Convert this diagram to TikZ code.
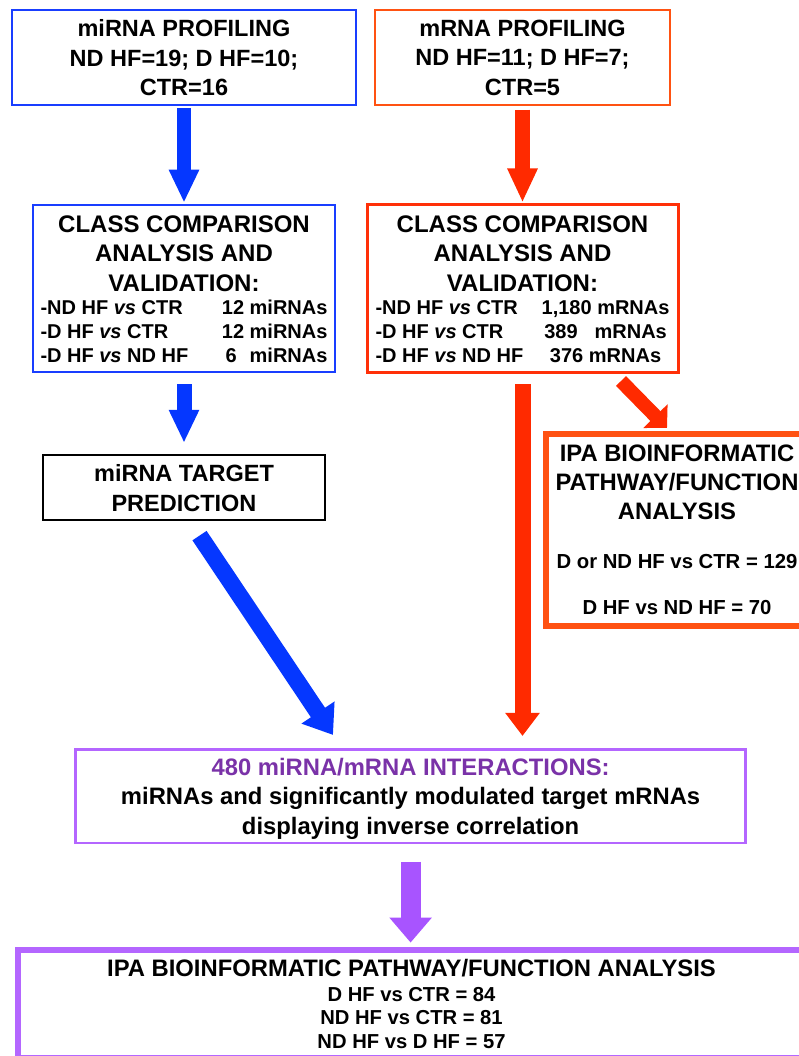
\documentclass[tikz,border=0pt]{standalone}
\usepackage{fontspec}
\setmainfont{Liberation Sans}
\usetikzlibrary{arrows.meta}
\definecolor{mirblue}{RGB}{25,62,255}
\definecolor{arrblue}{RGB}{5,55,255}
\definecolor{mrorange}{RGB}{255,82,18}
\definecolor{ccred}{RGB}{255,48,8}
\definecolor{arrred}{RGB}{255,42,0}
\definecolor{boxpurple}{RGB}{180,102,255}
\definecolor{arrpurple}{RGB}{168,84,255}
\definecolor{txtpurple}{RGB}{122,50,168}

\begin{document}
\begin{tikzpicture}
[every node/.style={inner sep=0pt, rectangle, align=center, text depth=0pt, font=\fontsize{23.5}{29.5}\selectfont\bfseries},
 fatarrow/.style n args={3}{line width=#1, -{Triangle[width=#2, length=#3]}}]
\path [use as bounding box, fill=white] (0pt, 0pt) rectangle (798pt, -1056pt);
\node (b1) [minimum width=344pt, minimum height=95pt, line width=2.5pt, draw=mirblue] at (184.0pt, -57.5pt) {miRNA PROFILING\\ND HF=19; D HF=10;\\CTR=16};
\node (b2) [minimum width=295pt, minimum height=95pt, line width=2.5pt, draw=mrorange] at (522.5pt, -57.5pt) {mRNA PROFILING\\ND HF=11; D HF=7;\\CTR=5};
\node (b3) [minimum width=302pt, minimum height=167pt, line width=2.5pt, draw=mirblue, text depth=47pt, font=\fontsize{24}{29.5}\selectfont\bfseries] at (184.0pt, -288.5pt) {CLASS COMPARISON\\ANALYSIS AND\\VALIDATION:\\[-6.5pt]
\fontsize{20}{24}\selectfont\begin{tabular*}{287pt}[t]{@{}l@{\extracolsep{\fill}}r@{}}
-ND HF \textit{vs} CTR & 12 miRNAs\\
-D HF \textit{vs} CTR & 12 miRNAs\hspace{3pt}\\
-D HF \textit{vs} ND HF & 6\hspace{13pt}miRNAs
\end{tabular*}};
\node (b4) [minimum width=311pt, minimum height=167pt, line width=3pt, draw=ccred, text depth=47pt, font=\fontsize{24}{29.5}\selectfont\bfseries] at (522.5pt, -288.5pt) {CLASS COMPARISON\\ANALYSIS AND\\VALIDATION:\\[-6.5pt]
\fontsize{20}{24}\selectfont\begin{tabular*}{294pt}[t]{@{}l@{\extracolsep{\fill}}c@{}}
-ND HF \textit{vs} CTR & 1,180 mRNAs\\
-D HF \textit{vs} CTR & 389\hspace{17pt}mRNAs\\
-D HF \textit{vs} ND HF & 376 mRNAs
\end{tabular*}};
\node (b5) [minimum width=281.5pt, minimum height=65pt, line width=2.2pt, draw=black, font=\fontsize{23.5}{30}\selectfont\bfseries] at (184.0pt, -487.5pt) {miRNA TARGET\\PREDICTION};
\node (b6) [minimum width=262pt, minimum height=192pt, line width=6pt, draw=mrorange, font=\fontsize{23.8}{29}\selectfont\bfseries] at (677.0pt, -529.6pt) {IPA BIOINFORMATIC\\PATHWAY/FUNCTION\\ANALYSIS\\[20pt]{\fontsize{20.3}{24}\selectfont D or ND HF vs CTR = 129}\\[17pt]{\fontsize{20.3}{24}\selectfont D HF vs ND HF = 70}};
\node (b7) [minimum width=670pt, minimum height=93.5pt, line width=2.5pt, draw=boxpurple, font=\fontsize{23.8}{29.5}\selectfont\bfseries] at (410.6pt, -796.2pt) {\textcolor{txtpurple}{480 miRNA/mRNA INTERACTIONS:}\\miRNAs and significantly modulated target mRNAs\\displaying inverse correlation};
\node (b8) [minimum width=787pt, minimum height=108pt, line width=5.5pt, draw=boxpurple, font=\fontsize{20.2}{23.5}\selectfont\bfseries] at (411.5pt, -1004.0pt) {{\fontsize{23.8}{28}\selectfont IPA BIOINFORMATIC PATHWAY/FUNCTION ANALYSIS}\\[1.5pt]D HF vs CTR = 84\\ND HF vs CTR = 81\\[0.5pt]ND HF vs D HF = 57};
\draw [fatarrow={14pt}{28pt}{33pt}, color=arrblue, shorten <=2pt, shorten >=1pt] (b1.south) to (b3.north);
\draw [fatarrow={15pt}{28pt}{34pt}, color=arrred, shorten <=3.5pt, shorten >=1pt] (b2.south) to (b4.north);
\draw [fatarrow={15pt}{28pt}{33pt}, color=arrblue, shorten <=10.75pt, shorten >=11pt] (b3.south) to (b5.north);
\draw [fatarrow={16pt}{33pt}{23pt}, color=arrred, shorten <=10.5pt, shorten >=12.25pt] (b4.south) to (b4.south |- b7.north);
\draw [fatarrow={14pt}{33pt}{16.5pt}, color=arrred] ([xshift=-58.5pt, yshift=-7.5pt]b4.south east) to ([xshift=-10pt, yshift=2.7pt]b6.north);
\draw [fatarrow={17pt}{38pt}{27pt}, color=arrblue] ([xshift=15.5pt, yshift=-14.5pt]b5.south) to ([xshift=-77.6pt, yshift=13.25pt]b7.north);
\draw [fatarrow={20pt}{41pt}{25pt}, color=arrpurple, shorten <=17.75pt, shorten >=4.7pt] (b7.south) to (b7.south |- b8.north);
\end{tikzpicture}
\end{document}
